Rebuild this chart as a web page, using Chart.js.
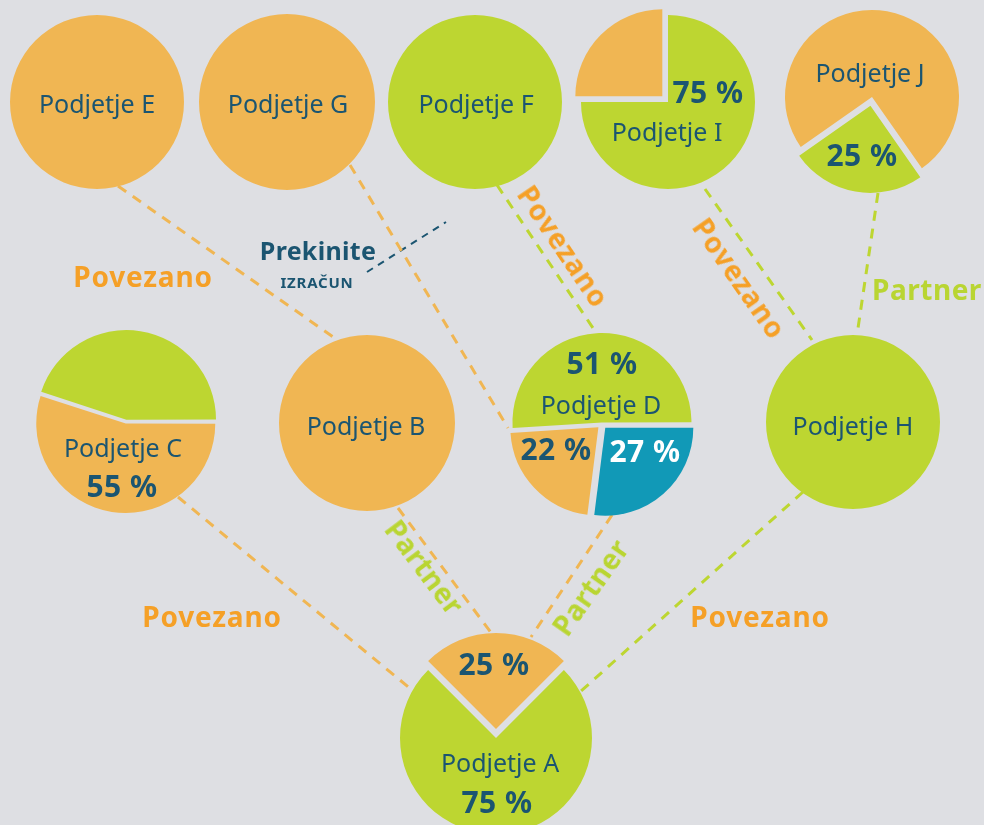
<!DOCTYPE html>
<html>
<head>
<meta charset="utf-8">
<script src="https://cdn.jsdelivr.net/npm/chart.js@4.4.1/dist/chart.umd.min.js"></script>
<style>
html,body{margin:0;padding:0;background:#DEDFE3;}
#wrap{position:relative;width:984px;height:825px;overflow:hidden;background:#DEDFE3;font-family:"Noto Sans",sans-serif;}
#wrap canvas{position:absolute;}
#lines{left:0;top:0;}
.t{position:absolute;white-space:nowrap;line-height:1;transform:translate(-50%,-50%);z-index:5;}
.name{color:#1B5571;font-size:25px;}
.pct{color:#1B5571;font-size:30px;font-weight:700;letter-spacing:0.5px;}
.white{color:#FFFFFF;}
.pov{color:#F5A027;font-size:28px;font-weight:700;letter-spacing:0.8px;}
.par{color:#B9D532;font-size:28px;font-weight:700;letter-spacing:0.5px;}
.stop{color:#1B5571;font-size:25px;font-weight:700;letter-spacing:0.3px;}
.stopsub{color:#1B5571;font-size:15px;font-weight:700;letter-spacing:0.8px;}
</style>
</head>
<body>
<div id="wrap"><canvas id="lines" width="984" height="825"></canvas></div>
<script>
// ---------- data ----------
const companies = ['Podjetje E','Podjetje G','Podjetje F','Podjetje I','Podjetje J','Podjetje C','Podjetje B','Podjetje D','Podjetje H','Podjetje A'];
const sharesE = [100];
const sharesG = [100];
const sharesF = [100];
const sharesB = [100];
const sharesH = [100];
const sharesI = [75, 25];      // green, orange
const sharesJ = [25, 75];      // green, orange
const sharesC = [55, 45];      // orange, green
const sharesD = [27, 22, 51];  // blue, orange, green
const sharesA = [25, 75];      // orange, green
const shareLabelsI = ['75 %'];
const shareLabelsJ = ['25 %'];
const shareLabelsC = ['55 %'];
const shareLabelsD = ['51 %', '22 %', '27 %'];
const shareLabelsA = ['25 %', '75 %'];
const relationTypes = ['Povezano','Povezano','Povezano','Povezano','Partner','Povezano','Partner','Partner','Povezano'];
const relationFrom = ['E','G','F','I','J','C','B','D','H'];
const relationTo   = ['B','D','D','H','H','A','A','A','A'];
const breakLabel = ['Prekinite', 'IZRAČUN'];

// ---------- layout & style ----------
const ORANGE = '#F0B653', GREEN = '#BDD631', BLUE = '#1199B7', DARK = '#1B5571';
const wrap = document.getElementById('wrap');
const greenSources = ['F','I','J','H'];

// edge endpoints (diagram units = pixels of the 984x825 scale)
const edgeGeom = [
  [118,186,336,339],
  [350,165,508,428],
  [497,185,597,334],
  [705,189,812,340],
  [878,193,857,335],
  [178,497,412,690],
  [398,508,492,634],
  [612,515,531,637],
  [803,492,580,692]
];
const breakGeom = [367,272,446,222];

const edgeDatasets = edgeGeom.map((g, i) => ({
  data: [{x:g[0], y:g[1]}, {x:g[2], y:g[3]}],
  showLine: true,
  borderColor: greenSources.includes(relationFrom[i]) ? GREEN : ORANGE,
  borderWidth: 3,
  borderDash: [10, 8],
  pointRadius: 0,
  fill: false
}));
edgeDatasets.push({
  data: [{x:breakGeom[0], y:breakGeom[1]}, {x:breakGeom[2], y:breakGeom[3]}],
  showLine: true, borderColor: DARK, borderWidth: 2, borderDash: [7, 6], pointRadius: 0, fill: false
});

new Chart(document.getElementById('lines'), {
  type: 'scatter',
  data: { datasets: edgeDatasets },
  options: {
    responsive: false, animation: false, events: [],
    layout: { padding: 0 },
    scales: {
      x: { type: 'linear', min: 0, max: 984, display: false },
      y: { type: 'linear', min: 0, max: 825, reverse: true, display: false }
    },
    plugins: { legend: { display: false }, tooltip: { enabled: false } }
  }
});

// Chart.js moves an arc by offset/4*(1+fix); convert a wanted pixel shift to the option value
function offsetFor(values, shifts) {
  const total = values.reduce((a, b) => a + b, 0);
  return values.map((v, i) => {
    const circ = v / total * 2 * Math.PI;
    const fix = 1 - Math.sin(Math.min(Math.PI, circ));
    return shifts[i] * 4 / (1 + fix);
  });
}

function makePie(cx, cy, r, values, colors, shifts, rotation) {
  const pad = Math.max(...shifts) + 4;
  const size = Math.round(2 * (r + pad));
  const c = document.createElement('canvas');
  c.width = size; c.height = size;
  c.style.left = (cx - size / 2) + 'px';
  c.style.top = (cy - size / 2) + 'px';
  c.style.width = size + 'px'; c.style.height = size + 'px';
  wrap.appendChild(c);
  new Chart(c, {
    type: 'pie',
    data: { datasets: [{ data: values, backgroundColor: colors, borderWidth: 0, offset: offsetFor(values, shifts) }] },
    options: {
      responsive: false, animation: false, events: [],
      radius: r, rotation: rotation,
      layout: { padding: 0 },
      plugins: { legend: { display: false }, tooltip: { enabled: false } }
    }
  });
}

makePie(97, 102, 87, sharesE, [ORANGE], [0], 0);
makePie(287, 102, 88, sharesG, [ORANGE], [0], 0);
makePie(475, 102, 87, sharesF, [GREEN], [0], 0);
makePie(668, 102, 87, sharesI, [GREEN, ORANGE], [0, 8], 0);
makePie(872, 97, 87, sharesJ, [GREEN, ORANGE], [9, 0], 145);
makePie(126, 422, 88, sharesC, [ORANGE, GREEN], [3, 4], 90);
makePie(367, 423, 88, sharesB, [ORANGE], [0], 0);
makePie(602, 424, 88, sharesD, [BLUE, ORANGE, GREEN], [5, 5, 3], 90);
makePie(853, 422, 87, sharesH, [GREEN], [0], 0);
makePie(496, 738, 96, sharesA, [ORANGE, GREEN], [9, 0], -45);

function addText(txt, cls, x, y, rot) {
  const d = document.createElement('div');
  d.className = 't ' + cls;
  d.textContent = txt;
  d.style.left = x + 'px'; d.style.top = y + 'px';
  if (rot) d.style.transform = 'translate(-50%,-50%) rotate(' + rot + 'deg)';
  wrap.appendChild(d);
}

addText(companies[0], 'name', 97, 103);
addText(companies[1], 'name', 288, 103);
addText(companies[2], 'name', 476, 103);
addText(shareLabelsI[0], 'pct', 708, 92);
addText(companies[3], 'name', 667, 131);
addText(companies[4], 'name', 870, 72);
addText(shareLabelsJ[0], 'pct', 862, 155);
addText(companies[5], 'name', 123, 447);
addText(shareLabelsC[0], 'pct', 122, 486);
addText(companies[6], 'name', 366, 425);
addText(shareLabelsD[0], 'pct', 602, 363);
addText(companies[7], 'name', 601, 404);
addText(shareLabelsD[1], 'pct', 556, 449);
addText(shareLabelsD[2], 'pct white', 645, 451);
addText(companies[8], 'name', 853, 425);
addText(shareLabelsA[0], 'pct', 494, 664);
addText(companies[9], 'name', 500, 762);
addText(shareLabelsA[1], 'pct', 497, 802);

addText(relationTypes[0], 'pov', 143, 276);
addText(relationTypes[5], 'pov', 212, 616);
addText(relationTypes[8], 'pov', 760, 616);
addText(relationTypes[2], 'pov', 564, 246, 56);
addText(relationTypes[3], 'pov', 740, 278, 55);
addText(relationTypes[4], 'par', 927, 289);
addText(relationTypes[6], 'par', 425, 567, 53);
addText(relationTypes[7], 'par', 590, 587, -55);

addText(breakLabel[0], 'stop', 318, 250);
addText(breakLabel[1], 'stopsub', 317, 282);
</script>
</body>
</html>
